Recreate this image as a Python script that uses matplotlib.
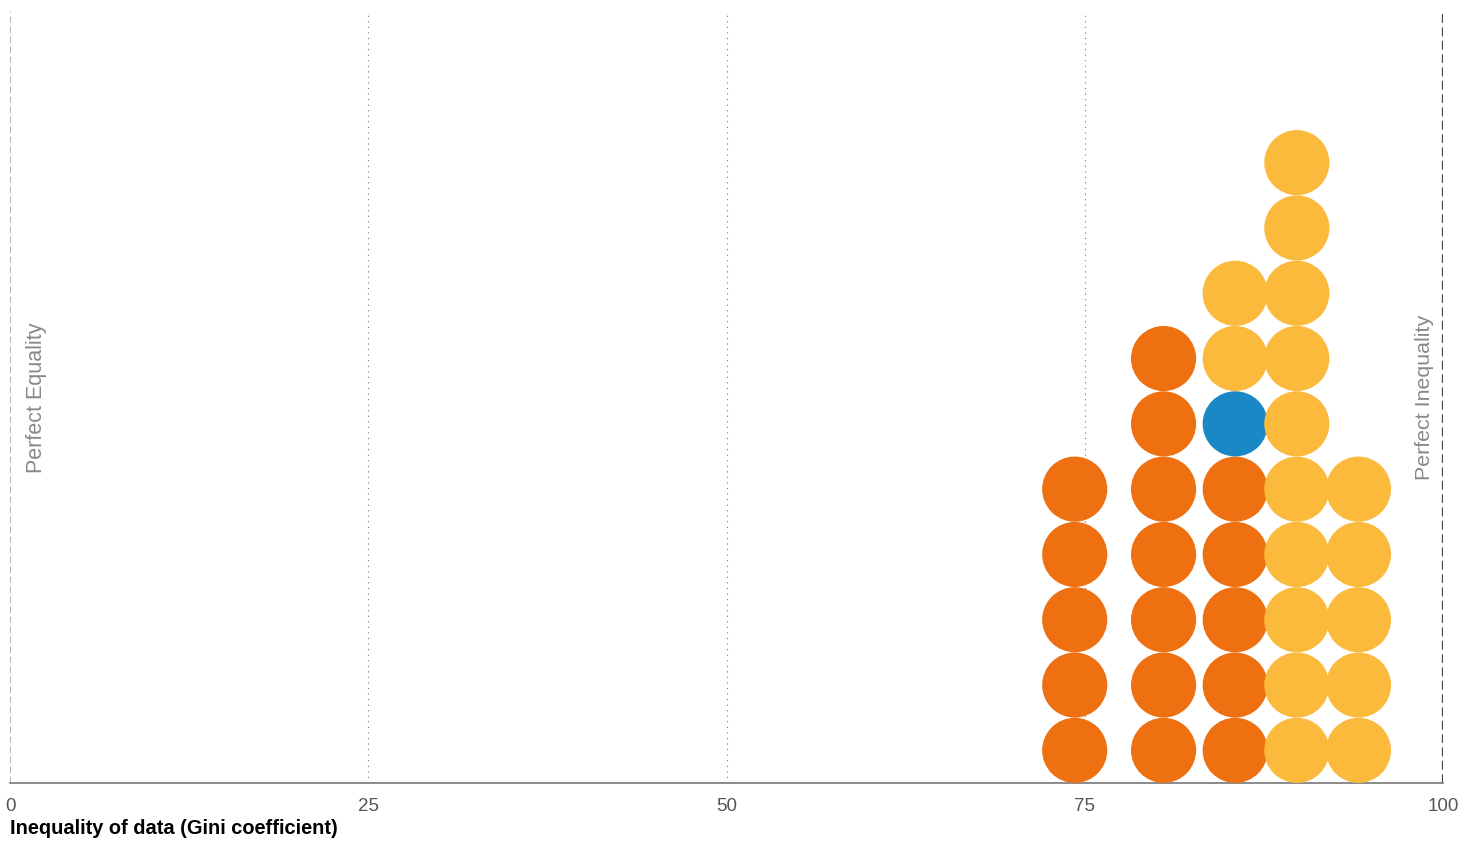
import matplotlib.pyplot as plt

# gini value of each column and how many dots of each colour stack there
gini = [74.3, 80.5, 85.5, 89.8, 94.1]
n_orange = [5, 7, 5, 0, 0]
n_blue = [0, 0, 1, 0, 0]
n_yellow = [0, 0, 2, 10, 5]

ticks = [0, 25, 50, 75, 100]
tick_labels = ["0", "25", "50", "75", "100"]

plt.rcParams['font.family'] = ['Liberation Sans', 'DejaVu Sans']

fig = plt.figure(figsize=(14.73, 8.42), dpi=100)
ax = fig.add_axes([10 / 1473, 59 / 842, 1433 / 1473, 771 / 842])

# stack the dots: orange at the bottom, then blue, then yellow
for x, o, b, yl in zip(gini, n_orange, n_blue, n_yellow):
    row = 0
    for count, color in [(o, '#EE7011'), (b, '#1A87C6'), (yl, '#FBBA3C')]:
        ys = [row + i + 0.5 for i in range(count)]
        ax.scatter([x] * count, ys, s=2200, color=color, edgecolor='none', zorder=3)
        row += count

ax.set_xlim(0, 100)
ax.set_ylim(0, 771 / 65.3)

for t in [25, 50, 75]:
    ax.axvline(t, color='#777777', linestyle=(0, (1, 4)), linewidth=0.8, zorder=1)
ax.axvline(0, color='#aaaaaa', linestyle=(0, (4, 2)), linewidth=1.2, zorder=1)
ax.axvline(100, color='#444444', linestyle=(0, (4, 2)), linewidth=1.6, zorder=1)

for side in ['top', 'left', 'right']:
    ax.spines[side].set_visible(False)
ax.spines['bottom'].set_color('#777777')
ax.spines['bottom'].set_linewidth(1.2)

ax.set_xticks(ticks)
ax.set_xticklabels(tick_labels)
ax.set_yticks([])
ax.tick_params(axis='x', length=0, pad=11, labelsize=13.5, labelcolor='#555555')

ax.text(1.85, 0.5, "Perfect Equality", transform=ax.get_xaxis_transform(), rotation=90,
        ha='center', va='center', fontsize=15.5, color='#888888')
ax.text(98.7, 0.5, "Perfect Inequality", transform=ax.get_xaxis_transform(), rotation=90,
        ha='center', va='center', fontsize=15.4, color='#888888')

fig.text(10 / 1473, 1 - 829 / 842, "Inequality of data (Gini coefficient)",
         ha='left', va='center', fontsize=14.4, fontweight='bold', color='black')

fig.savefig('out.png', dpi=100)
